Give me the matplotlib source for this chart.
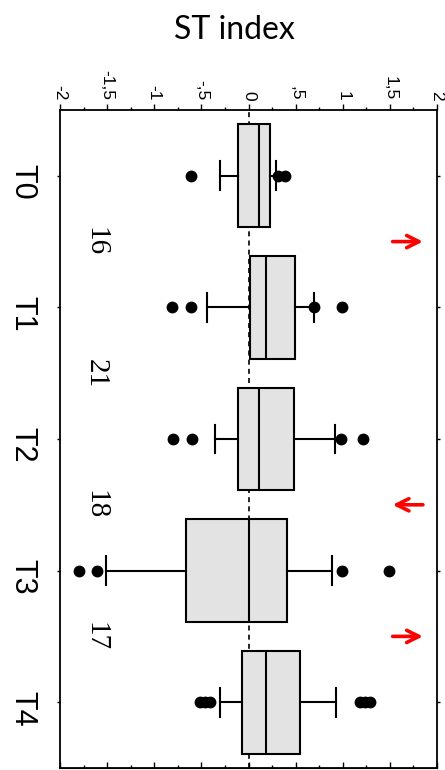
import matplotlib.pyplot as plt
from matplotlib.ticker import MultipleLocator, FixedFormatter, FixedLocator

# data
categories = ["T0", "T1", "T2", "T3", "T4"]
q1 = [-0.11, 0.02, -0.11, -0.66, -0.07]
med = [0.11, 0.19, 0.11, 0.0, 0.19]
q3 = [0.23, 0.49, 0.48, 0.41, 0.55]
whislo = [-0.30, -0.44, -0.36, -1.51, -0.30]
whishi = [0.29, 0.69, 0.92, 0.89, 0.93]
fliers = [
    [-0.61, 0.31, 0.39],
    [-0.81, -0.61, 0.70, 0.99],
    [-0.80, -0.60, 0.98, 1.21],
    [-1.80, -1.61, 0.99, 1.49],
    [-0.51, -0.46, -0.41, 1.18, 1.24, 1.29],
]
counts = ["16", "21", "18", "17"]
count_rows = [0.5, 1.5, 2.5, 3.5]
arrow_rows = [0.5, 2.5, 3.5]
arrow_dirs = [1, -1, 1]
xtick_vals = [-2, -1.5, -1, -0.5, 0, 0.5, 1, 1.5, 2]
xtick_labels = ["-2", "-1,5", "-1", "-,5", "0", ",5", "1", "1,5", "2"]

stats = []
for i, c in enumerate(categories):
    stats.append(dict(label=c, q1=q1[i], med=med[i], q3=q3[i],
                      whislo=whislo[i], whishi=whishi[i], fliers=fliers[i]))

fig = plt.figure(figsize=(4.45, 7.7), dpi=100)
ax = fig.add_axes([60 / 445, 2 / 770, 377 / 445, 658 / 770])

ax.axvline(0, color="black", lw=1.2, ls=(0, (3, 2.5)), zorder=1)

ax.bxp(stats, positions=range(len(categories)), widths=0.78,
       capwidths=0.22, orientation="horizontal", patch_artist=True,
       boxprops=dict(facecolor="#e3e3e3", edgecolor="black", linewidth=1.5),
       medianprops=dict(color="black", linewidth=1.5),
       whiskerprops=dict(color="black", linewidth=1.5),
       capprops=dict(color="black", linewidth=1.5),
       flierprops=dict(marker="o", markerfacecolor="black",
                       markeredgecolor="black", markersize=7.5))

ax.set_xlim(-2, 2)
ax.set_ylim(4.5, -0.5)

# top axis with outward ticks and rotated labels
ax.xaxis.set_major_locator(FixedLocator(xtick_vals))
ax.xaxis.set_major_formatter(FixedFormatter(xtick_labels))
ax.xaxis.set_minor_locator(MultipleLocator(0.25))
ax.tick_params(axis="x", which="both", top=True, bottom=False,
               labeltop=True, labelbottom=False, direction="out")
ax.tick_params(axis="x", which="major", length=4, width=1, pad=3,
               labelsize=12.5)
ax.tick_params(axis="x", which="minor", length=2.5, width=1)
for lab in ax.get_xticklabels():
    lab.set_rotation(-90)
    lab.set_family("Liberation Sans")

# bottom ticks point inward
sec = ax.secondary_xaxis("bottom")
sec.xaxis.set_major_locator(MultipleLocator(0.5))
sec.xaxis.set_minor_locator(MultipleLocator(0.25))
sec.tick_params(axis="x", which="both", direction="in", labelbottom=False)
sec.tick_params(axis="x", which="major", length=4, width=1)
sec.tick_params(axis="x", which="minor", length=2.5, width=1)

ax.set_yticks(range(len(categories)))
ax.set_yticklabels(categories, rotation=-90, fontsize=22,
                   family="Liberation Sans")
ax.tick_params(axis="y", left=True, right=True, length=2, width=1, pad=14)

for s in ax.spines.values():
    s.set_linewidth(1.3)

for r, n in zip(count_rows, counts):
    ax.text(-1.62, r, n, rotation=-90, ha="center", va="center",
            fontsize=21, family="Liberation Serif")

for r, d in zip(arrow_rows, arrow_dirs):
    x0, x1 = (1.50, 1.88) if d > 0 else (1.88, 1.50)
    ax.annotate("", xy=(x1, r), xytext=(x0, r),
                arrowprops=dict(arrowstyle="->", color="red", lw=2.6,
                                mutation_scale=22))

fig.text(234 / 445, 1 - 30 / 770, "ST index", ha="center", va="center",
         fontsize=23, family="Lato")

fig.savefig("out.png", dpi=100)
